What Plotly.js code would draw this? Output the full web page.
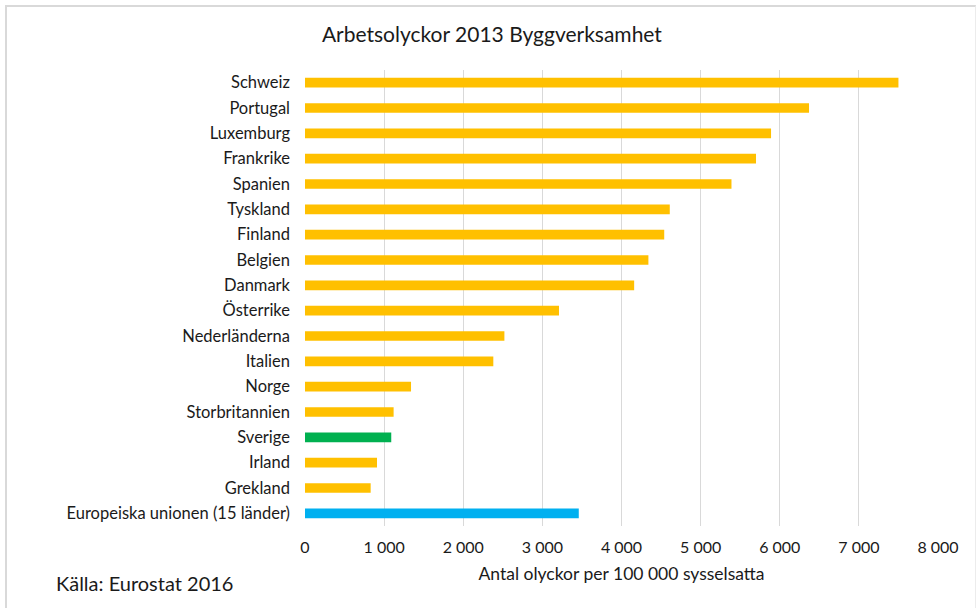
<!DOCTYPE html>
<html>
<head>
<meta charset="utf-8">
<script src="https://cdn.plot.ly/plotly-3.0.1.min.js"></script>
<style>
html,body{margin:0;padding:0;background:#fff;}
#wrap{position:relative;width:976px;height:608px;}
#chart{width:976px;height:608px;}
#frame{position:absolute;left:5px;top:5px;width:968px;height:610px;border-left:2px solid #d9d9d9;border-top:2px solid #d9d9d9;border-right:1px solid #ececec;pointer-events:none;}
</style>
</head>
<body>
<div id="wrap"><div id="chart"></div><div id="frame"></div></div>
<script>
const countries = ["Schweiz","Portugal","Luxemburg","Frankrike","Spanien","Tyskland","Finland","Belgien","Danmark","Österrike","Nederländerna","Italien","Norge","Storbritannien","Sverige","Irland","Grekland","Europeiska unionen (15 länder)"];
const values = [7500,6370,5890,5700,5390,4610,4540,4340,4160,3210,2520,2380,1340,1120,1090,910,830,3460];
const barColors = ["#FFC000","#FFC000","#FFC000","#FFC000","#FFC000","#FFC000","#FFC000","#FFC000","#FFC000","#FFC000","#FFC000","#FFC000","#FFC000","#FFC000","#00B050","#FFC000","#FFC000","#00B0F0"];
const titleText = "Arbetsolyckor 2013 Byggverksamhet";
const xTitle = "Antal olyckor per 100 000 sysselsatta";
const sourceText = "Källa: Eurostat 2016";

const font = "Lato, 'Open Sans', sans-serif";
const data = [{
  type: "bar",
  orientation: "h",
  y: countries,
  x: values,
  marker: {color: barColors},
  width: 0.38,
  hoverinfo: "x+y"
}];
const layout = {
  width: 976, height: 608,
  margin: {l: 305, r: 38, t: 70, b: 82},
  paper_bgcolor: "#fff", plot_bgcolor: "#fff",
  separators: ", ",
  font: {family: font, color: "#404040", size: 15},
  title: {text: titleText, font: {family: font, size: 21, color: "#1a1a1a"}, x: 0.504, xanchor: "center", xref: "container", y: 0.943, yanchor: "middle"},
  showlegend: false,
  xaxis: {
    range: [0, 8000], dtick: 1000, tickformat: ",d",
    showgrid: true, gridcolor: "#d9d9d9", gridwidth: 1,
    zeroline: false, showline: false, ticks: "",
    tickfont: {size: 16, color: "#1a1a1a"},
    ticklabelstandoff: 10,
    title: {text: xTitle, font: {size: 17.5, color: "#1a1a1a"}, standoff: 12},
    fixedrange: true
  },
  yaxis: {
    autorange: "reversed", type: "category",
    showgrid: false, zeroline: false, showline: false, ticks: "",
    tickfont: {size: 16.5, color: "#1a1a1a"},
    ticklabelstandoff: 14,
    fixedrange: true
  },
  annotations: [{
    text: sourceText, xref: "paper", yref: "paper",
    x: -0.397, y: -0.125, xanchor: "left", yanchor: "middle",
    showarrow: false, font: {family: font, size: 20, color: "#1a1a1a"}
  }]
};
Plotly.newPlot("chart", data, layout, {displayModeBar: false, staticPlot: true});
</script>
</body>
</html>
